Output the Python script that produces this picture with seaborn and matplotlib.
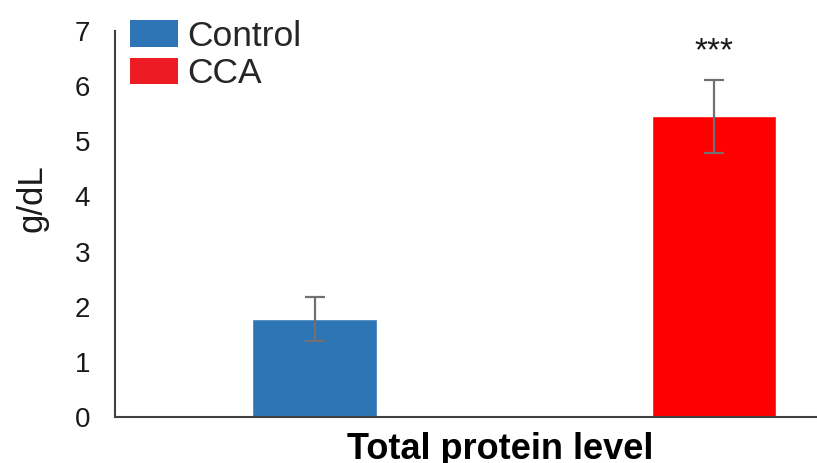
import matplotlib
matplotlib.use("Agg")
import matplotlib.pyplot as plt
from matplotlib.patches import Patch
import seaborn as sns
import pandas as pd

groups = ["Control", "CCA"]
means = [1.77, 5.45]
errors = [0.40, 0.67]
colors = ["#2E75B6", "#FF0000"]
legend_colors = ["#2E75B6", "#ED1C24"]
significance = ["", "***"]

sns.set_theme(style="white")
plt.rcParams["font.family"] = ["Liberation Sans", "DejaVu Sans"]

df = pd.DataFrame({"group": groups, "value": means})

fig = plt.figure(figsize=(8.17, 4.63), dpi=100)
ax = fig.add_axes([115 / 817, 1 - 417 / 463, 1 - 115 / 817, (417 - 31) / 463])

sns.barplot(data=df, x="group", y="value", hue="group", palette=colors,
            width=0.313, dodge=False, legend=False, ax=ax, errorbar=None,
            saturation=1)

centers = [p.get_x() + p.get_width() / 2 for p in ax.patches]
heights = [p.get_height() for p in ax.patches]
ax.errorbar(centers, heights, yerr=errors, fmt="none", ecolor="#707070",
            elinewidth=1.6, capsize=7, capthick=1.6, zorder=5)

for c, h, e, s in zip(centers, heights, errors, significance):
    if s:
        ax.text(c, h + e + 0.5, s, ha="center", va="center", fontsize=24,
                color="#1a1a1a")

ax.set_ylim(0, 7)
ax.set_xlim(-0.501, 1.258)
ax.set_yticks(range(0, 8))
ax.tick_params(axis="y", length=0, pad=18, labelsize=20, labelcolor="#1a1a1a")
ax.set_xticks([])
ax.set_xlabel("Total protein level", fontsize=26, fontweight="bold",
              color="black")
ax.xaxis.set_label_coords(0.548, -0.04, transform=ax.transAxes)
ax.xaxis.label.set_va("top")
ax.set_ylabel("g/dL", fontsize=25, color="#1a1a1a")
ax.yaxis.set_label_coords(-0.118, 0.567, transform=ax.transAxes)
ax.yaxis.label.set_va("center")

for side in ["top", "right"]:
    ax.spines[side].set_visible(False)
for side in ["left", "bottom"]:
    ax.spines[side].set_color("#404040")
    ax.spines[side].set_linewidth(1.5)

handles = [Patch(facecolor=c, edgecolor="none", label=g)
           for g, c in zip(groups, legend_colors)]
fig.legend(handles=handles, loc="upper left",
           bbox_to_anchor=(130 / 817, 1 - 20 / 463), frameon=False,
           fontsize=25.5, handlelength=1.36, handleheight=0.78,
           handletextpad=0.25, labelspacing=0.12, borderpad=0,
           borderaxespad=0)

fig.savefig("out.png", dpi=100)
